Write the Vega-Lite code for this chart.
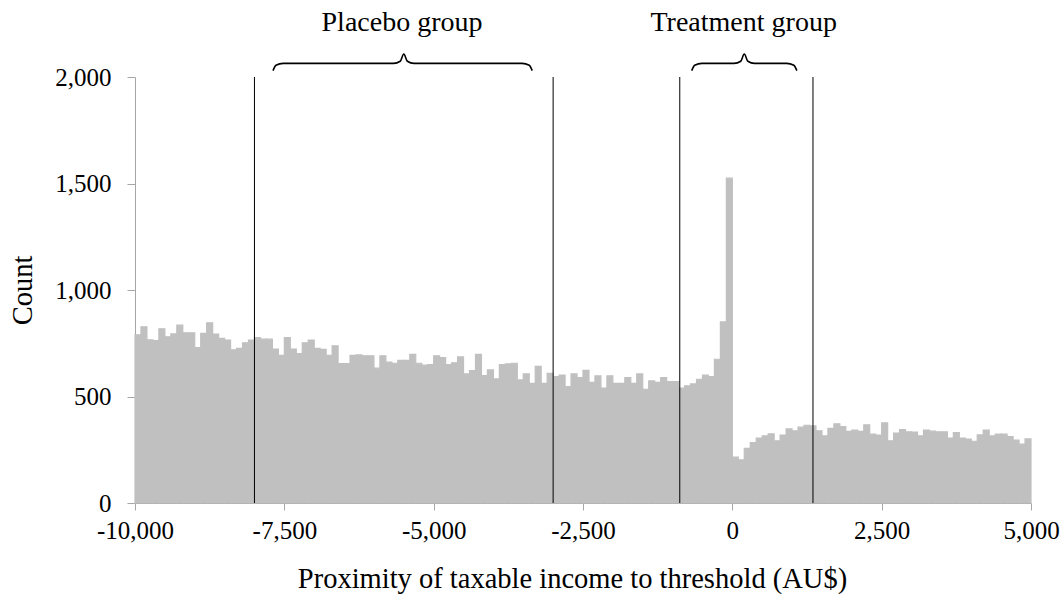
{
  "$schema": "https://vega.github.io/schema/vega-lite/v6.json",
  "width": 896,
  "height": 426,
  "autosize": {"type": "none"},
  "padding": {"left": 135, "top": 77, "right": 30, "bottom": 96},
  "background": "white",
  "config": {
    "view": {"stroke": null},
    "font": "Liberation Serif",
    "axis": {
      "labelFont": "Liberation Serif",
      "titleFont": "Liberation Serif",
      "labelFontSize": 25,
      "titleFontSize": 28.5,
      "titleFontWeight": "normal",
      "labelColor": "#000000",
      "titleColor": "#000000",
      "domainColor": "#a6a6a6",
      "tickColor": "#a6a6a6",
      "grid": false
    }
  },
  "datasets": {
    "bins": [
      {"lo": -10000, "hi": -9900, "count": 790},
      {"lo": -9900, "hi": -9800, "count": 827},
      {"lo": -9800, "hi": -9700, "count": 766},
      {"lo": -9700, "hi": -9600, "count": 762},
      {"lo": -9600, "hi": -9500, "count": 818},
      {"lo": -9500, "hi": -9400, "count": 780},
      {"lo": -9400, "hi": -9300, "count": 794},
      {"lo": -9300, "hi": -9200, "count": 835},
      {"lo": -9200, "hi": -9100, "count": 799},
      {"lo": -9100, "hi": -9000, "count": 799},
      {"lo": -9000, "hi": -8900, "count": 729},
      {"lo": -8900, "hi": -8800, "count": 796},
      {"lo": -8800, "hi": -8700, "count": 846},
      {"lo": -8700, "hi": -8600, "count": 793},
      {"lo": -8600, "hi": -8500, "count": 773},
      {"lo": -8500, "hi": -8400, "count": 765},
      {"lo": -8400, "hi": -8300, "count": 719},
      {"lo": -8300, "hi": -8200, "count": 726},
      {"lo": -8200, "hi": -8100, "count": 752},
      {"lo": -8100, "hi": -8000, "count": 765},
      {"lo": -8000, "hi": -7900, "count": 776},
      {"lo": -7900, "hi": -7800, "count": 769},
      {"lo": -7800, "hi": -7700, "count": 769},
      {"lo": -7700, "hi": -7600, "count": 723},
      {"lo": -7600, "hi": -7500, "count": 693},
      {"lo": -7500, "hi": -7400, "count": 776},
      {"lo": -7400, "hi": -7300, "count": 723},
      {"lo": -7300, "hi": -7200, "count": 701},
      {"lo": -7200, "hi": -7100, "count": 752},
      {"lo": -7100, "hi": -7000, "count": 765},
      {"lo": -7000, "hi": -6900, "count": 726},
      {"lo": -6900, "hi": -6800, "count": 721},
      {"lo": -6800, "hi": -6700, "count": 693},
      {"lo": -6700, "hi": -6600, "count": 738},
      {"lo": -6600, "hi": -6500, "count": 654},
      {"lo": -6500, "hi": -6400, "count": 654},
      {"lo": -6400, "hi": -6300, "count": 693},
      {"lo": -6300, "hi": -6200, "count": 695},
      {"lo": -6200, "hi": -6100, "count": 691},
      {"lo": -6100, "hi": -6000, "count": 691},
      {"lo": -6000, "hi": -5900, "count": 633},
      {"lo": -5900, "hi": -5800, "count": 691},
      {"lo": -5800, "hi": -5700, "count": 661},
      {"lo": -5700, "hi": -5600, "count": 656},
      {"lo": -5600, "hi": -5500, "count": 670},
      {"lo": -5500, "hi": -5400, "count": 670},
      {"lo": -5400, "hi": -5300, "count": 698},
      {"lo": -5300, "hi": -5200, "count": 656},
      {"lo": -5200, "hi": -5100, "count": 647},
      {"lo": -5100, "hi": -5000, "count": 650},
      {"lo": -5000, "hi": -4900, "count": 691},
      {"lo": -4900, "hi": -4800, "count": 683},
      {"lo": -4800, "hi": -4700, "count": 650},
      {"lo": -4700, "hi": -4600, "count": 658},
      {"lo": -4600, "hi": -4500, "count": 686},
      {"lo": -4500, "hi": -4400, "count": 606},
      {"lo": -4400, "hi": -4300, "count": 622},
      {"lo": -4300, "hi": -4200, "count": 698},
      {"lo": -4200, "hi": -4100, "count": 598},
      {"lo": -4100, "hi": -4000, "count": 625},
      {"lo": -4000, "hi": -3900, "count": 583},
      {"lo": -3900, "hi": -3800, "count": 650},
      {"lo": -3800, "hi": -3700, "count": 653},
      {"lo": -3700, "hi": -3600, "count": 656},
      {"lo": -3600, "hi": -3500, "count": 578},
      {"lo": -3500, "hi": -3400, "count": 606},
      {"lo": -3400, "hi": -3300, "count": 562},
      {"lo": -3300, "hi": -3200, "count": 641},
      {"lo": -3200, "hi": -3100, "count": 562},
      {"lo": -3100, "hi": -3000, "count": 609},
      {"lo": -3000, "hi": -2900, "count": 594},
      {"lo": -2900, "hi": -2800, "count": 601},
      {"lo": -2800, "hi": -2700, "count": 547},
      {"lo": -2700, "hi": -2600, "count": 606},
      {"lo": -2600, "hi": -2500, "count": 589},
      {"lo": -2500, "hi": -2400, "count": 623},
      {"lo": -2400, "hi": -2300, "count": 566},
      {"lo": -2300, "hi": -2200, "count": 597},
      {"lo": -2200, "hi": -2100, "count": 539},
      {"lo": -2100, "hi": -2000, "count": 597},
      {"lo": -2000, "hi": -1900, "count": 562},
      {"lo": -1900, "hi": -1800, "count": 562},
      {"lo": -1800, "hi": -1700, "count": 589},
      {"lo": -1700, "hi": -1600, "count": 562},
      {"lo": -1600, "hi": -1500, "count": 606},
      {"lo": -1500, "hi": -1400, "count": 534},
      {"lo": -1400, "hi": -1300, "count": 573},
      {"lo": -1300, "hi": -1200, "count": 566},
      {"lo": -1200, "hi": -1100, "count": 589},
      {"lo": -1100, "hi": -1000, "count": 570},
      {"lo": -1000, "hi": -900, "count": 570},
      {"lo": -900, "hi": -800, "count": 539},
      {"lo": -800, "hi": -700, "count": 550},
      {"lo": -700, "hi": -600, "count": 559},
      {"lo": -600, "hi": -500, "count": 581},
      {"lo": -500, "hi": -400, "count": 600},
      {"lo": -400, "hi": -300, "count": 594},
      {"lo": -300, "hi": -200, "count": 675},
      {"lo": -200, "hi": -100, "count": 850},
      {"lo": -100, "hi": 0, "count": 1525},
      {"lo": 0, "hi": 100, "count": 215},
      {"lo": 100, "hi": 200, "count": 203},
      {"lo": 200, "hi": 300, "count": 256},
      {"lo": 300, "hi": 400, "count": 284},
      {"lo": 400, "hi": 500, "count": 305},
      {"lo": 500, "hi": 600, "count": 315},
      {"lo": 600, "hi": 700, "count": 325},
      {"lo": 700, "hi": 800, "count": 292},
      {"lo": 800, "hi": 900, "count": 319},
      {"lo": 900, "hi": 1000, "count": 348},
      {"lo": 1000, "hi": 1100, "count": 339},
      {"lo": 1100, "hi": 1200, "count": 356},
      {"lo": 1200, "hi": 1300, "count": 365},
      {"lo": 1300, "hi": 1400, "count": 362},
      {"lo": 1400, "hi": 1500, "count": 339},
      {"lo": 1500, "hi": 1600, "count": 315},
      {"lo": 1600, "hi": 1700, "count": 350},
      {"lo": 1700, "hi": 1800, "count": 372},
      {"lo": 1800, "hi": 1900, "count": 359},
      {"lo": 1900, "hi": 2000, "count": 336},
      {"lo": 2000, "hi": 2100, "count": 342},
      {"lo": 2100, "hi": 2200, "count": 336},
      {"lo": 2200, "hi": 2300, "count": 367},
      {"lo": 2300, "hi": 2400, "count": 323},
      {"lo": 2400, "hi": 2500, "count": 319},
      {"lo": 2500, "hi": 2600, "count": 376},
      {"lo": 2600, "hi": 2700, "count": 292},
      {"lo": 2700, "hi": 2800, "count": 328},
      {"lo": 2800, "hi": 2900, "count": 345},
      {"lo": 2900, "hi": 3000, "count": 334},
      {"lo": 3000, "hi": 3100, "count": 333},
      {"lo": 3100, "hi": 3200, "count": 315},
      {"lo": 3200, "hi": 3300, "count": 342},
      {"lo": 3300, "hi": 3400, "count": 337},
      {"lo": 3400, "hi": 3500, "count": 334},
      {"lo": 3500, "hi": 3600, "count": 334},
      {"lo": 3600, "hi": 3700, "count": 305},
      {"lo": 3700, "hi": 3800, "count": 330},
      {"lo": 3800, "hi": 3900, "count": 305},
      {"lo": 3900, "hi": 4000, "count": 300},
      {"lo": 4000, "hi": 4100, "count": 290},
      {"lo": 4100, "hi": 4200, "count": 320},
      {"lo": 4200, "hi": 4300, "count": 342},
      {"lo": 4300, "hi": 4400, "count": 315},
      {"lo": 4400, "hi": 4500, "count": 323},
      {"lo": 4500, "hi": 4600, "count": 323},
      {"lo": 4600, "hi": 4700, "count": 312},
      {"lo": 4700, "hi": 4800, "count": 295},
      {"lo": 4800, "hi": 4900, "count": 276},
      {"lo": 4900, "hi": 5000, "count": 301}
    ],
    "cutoffs": [
      {"at": -8000},
      {"at": -3000},
      {"at": -880},
      {"at": 1350}
    ],
    "braces": [
      {"group": "placebo", "seq": 1, "px": -7690, "py": 2030},
      {"group": "placebo", "seq": 2, "px": -7640, "py": 2055},
      {"group": "placebo", "seq": 3, "px": -7520, "py": 2064},
      {"group": "placebo", "seq": 4, "px": -5670, "py": 2064},
      {"group": "placebo", "seq": 5, "px": -5560, "py": 2074},
      {"group": "placebo", "seq": 6, "px": -5500, "py": 2108},
      {"group": "placebo", "seq": 7, "px": -5440, "py": 2074},
      {"group": "placebo", "seq": 8, "px": -5330, "py": 2064},
      {"group": "placebo", "seq": 9, "px": -3520, "py": 2064},
      {"group": "placebo", "seq": 10, "px": -3400, "py": 2055},
      {"group": "placebo", "seq": 11, "px": -3350, "py": 2030},
      {"group": "treatment", "seq": 1, "px": -680, "py": 2030},
      {"group": "treatment", "seq": 2, "px": -630, "py": 2055},
      {"group": "treatment", "seq": 3, "px": -510, "py": 2064},
      {"group": "treatment", "seq": 4, "px": 30, "py": 2064},
      {"group": "treatment", "seq": 5, "px": 140, "py": 2074},
      {"group": "treatment", "seq": 6, "px": 200, "py": 2108},
      {"group": "treatment", "seq": 7, "px": 260, "py": 2074},
      {"group": "treatment", "seq": 8, "px": 370, "py": 2064},
      {"group": "treatment", "seq": 9, "px": 910, "py": 2064},
      {"group": "treatment", "seq": 10, "px": 1030, "py": 2055},
      {"group": "treatment", "seq": 11, "px": 1080, "py": 2030}
    ],
    "labels": [
      {"label": "Placebo group", "px": -5530, "py": 2255},
      {"label": "Treatment group", "px": 190, "py": 2255}
    ]
  },
  "layer": [
    {
      "data": {"name": "bins"},
      "mark": {"type": "rect", "color": "#c0c0c0", "stroke": "#c0c0c0", "strokeWidth": 1.2},
      "encoding": {
        "x": {
          "field": "lo",
          "type": "quantitative",
          "scale": {"domain": [-10000, 5000], "nice": false, "zero": false},
          "axis": {
            "values": [-10000, -7500, -5000, -2500, 0, 2500, 5000],
            "format": ",d",
            "labelExpr": "replace(datum.label, '\u2212', '-')",
            "title": "Proximity of taxable income to threshold (AU$)",
            "tickSize": 7,
            "labelPadding": 8,
            "titlePadding": 21,
            "titleX": 437,
            "titleAlign": "center",
            "labelFlush": false
          }
        },
        "x2": {"field": "hi"},
        "y": {
          "field": "count",
          "type": "quantitative",
          "scale": {"domain": [0, 2000], "nice": false},
          "axis": {
            "values": [0, 500, 1000, 1500, 2000],
            "format": ",d",
            "title": "Count",
            "tickSize": 8,
            "labelPadding": 16,
            "titleX": -113,
            "titleY": 213,
            "titleAngle": -90,
            "titleAlign": "center",
            "titleBaseline": "middle"
          }
        },
        "y2": {"datum": 0}
      }
    },
    {
      "data": {"name": "cutoffs"},
      "mark": {"type": "rule", "color": "#000000", "strokeWidth": 1},
      "encoding": {
        "x": {"field": "at", "type": "quantitative"},
        "y": {"datum": 0},
        "y2": {"datum": 2000}
      }
    },
    {
      "data": {"name": "braces"},
      "mark": {"type": "line", "color": "#000000", "strokeWidth": 1.6, "interpolate": "monotone", "clip": false},
      "encoding": {
        "x": {"field": "px", "type": "quantitative"},
        "y": {"field": "py", "type": "quantitative"},
        "detail": {"field": "group"},
        "order": {"field": "seq"}
      }
    },
    {
      "data": {"name": "labels"},
      "mark": {"type": "text", "font": "Liberation Serif", "fontSize": 28, "color": "#000000", "baseline": "middle", "align": "center", "clip": false},
      "encoding": {
        "x": {"field": "px", "type": "quantitative"},
        "y": {"field": "py", "type": "quantitative"},
        "text": {"field": "label"}
      }
    }
  ]
}
